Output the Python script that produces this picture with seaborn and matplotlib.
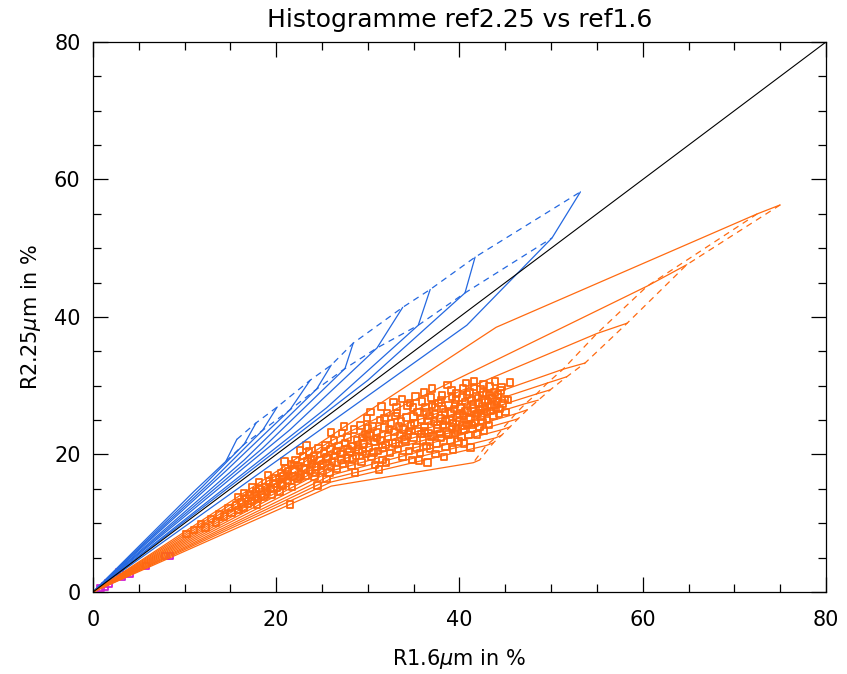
import numpy as np
import pandas as pd
import matplotlib
matplotlib.use('Agg')
import matplotlib.pyplot as plt
import seaborn as sns
from matplotlib.ticker import MultipleLocator

# blue mesh: solid columns go origin -> L1 -> L2 -> L3, dashed lines join L2 and L3 nodes
blue_l1_x = [11.0, 12.0, 13.0, 14.5, 16.5, 18.5, 21.5, 25.5, 30.0, 40.8]
blue_l1_y = [14.6, 15.4, 16.2, 17.6, 19.2, 20.9, 23.6, 26.8, 30.8, 38.8]
blue_l2_x = [14.5, 16.5, 18.5, 21.5, 24.4, 27.5, 31.0, 35.5, 40.6, 50.1]
blue_l2_y = [19.0, 21.5, 23.5, 26.5, 29.5, 32.5, 35.5, 38.8, 43.5, 51.5]
blue_l3_x = [15.7, 17.8, 20.1, 23.7, 26.0, 28.4, 33.8, 36.8, 41.7, 53.2]
blue_l3_y = [22.2, 24.6, 26.9, 30.8, 33.0, 36.2, 41.4, 44.0, 48.7, 58.2]

# orange mesh: solid columns go origin -> A -> B -> C, dashed lines join B and C nodes
orange_a_x = [44.0, 26.0, 26.0, 26.0, 26.0, 26.0, 26.0, 26.0, 26.0, 26.0, 26.0, 26.0, 26.0]
orange_a_y = [38.5, 22.0, 21.3, 20.6, 20.0, 19.4, 18.8, 18.2, 17.6, 17.0, 16.5, 16.0, 15.4]
orange_b_x = [72.5, 60.5, 55.0, 51.3, 49.6, 48.4, 47.2, 46.1, 45.4, 44.6, 43.9, 42.9, 41.5]
orange_b_y = [55.0, 44.5, 37.6, 32.4, 30.4, 28.8, 27.4, 25.9, 24.8, 23.6, 22.4, 21.3, 18.8]
orange_c_x = [75.0, 64.8, 58.3, 53.7, 51.7, 49.9, 48.6, 47.4, 46.4, 45.5, 44.6, 43.7, 42.2]
orange_c_y = [56.3, 47.6, 39.1, 33.3, 31.3, 29.4, 27.9, 26.5, 25.2, 24.0, 22.8, 21.7, 19.2]

cloud_x = [10.2, 11.0, 11.8, 12.3, 12.9, 13.4, 13.8, 14.3, 14.8, 15.1, 15.6, 15.9,
           16.2, 16.4, 16.7, 16.9, 17.1, 17.3, 17.6, 17.8, 18.0, 18.2, 18.4, 18.6, 18.8,
           19.0, 19.2, 19.4, 19.5, 19.7, 19.9, 16.5, 17.4, 18.1, 19.1, 15.8, 17.9,
           20.1, 20.3, 20.5, 20.6, 20.8, 21.0, 21.2, 21.3, 21.5, 21.6, 21.8, 22.0, 22.1,
           22.3, 22.5, 22.7, 22.9, 23.0, 23.2, 23.4, 23.6, 23.7, 23.9, 24.1, 24.2, 24.4,
           24.6, 24.7, 24.9, 20.4, 21.7, 22.6, 23.3, 24.5, 20.9,
           25.1, 25.2, 25.4, 25.6, 25.8, 25.9, 26.1, 26.3, 26.4, 26.6, 26.8, 27.0, 27.2,
           27.3, 27.5, 27.7, 27.8, 28.0, 28.2, 28.3, 28.5, 28.7, 28.8, 29.0, 29.2, 29.3,
           29.5, 29.7, 29.8, 29.9, 26.0, 27.4, 28.6, 25.5, 29.4,
           30.1, 30.2, 30.4, 30.5, 30.7, 30.8, 31.0, 31.1, 31.3, 31.4, 31.6, 31.8, 31.9,
           32.1, 32.2, 32.4, 32.5, 32.7, 32.9, 33.0, 33.2, 33.3, 33.5, 33.6, 33.8, 33.9,
           34.1, 34.2, 34.4, 34.5, 34.7, 34.8, 34.9, 30.3, 31.5, 32.8, 33.7, 31.2, 32.0, 34.6,
           35.0, 35.1, 35.3, 35.4, 35.5, 35.7, 35.8, 35.9, 36.0, 36.2, 36.3, 36.4, 36.6,
           36.7, 36.8, 36.9, 37.1, 37.2, 37.3, 37.5, 37.6, 37.7, 37.9, 38.0, 38.1, 38.2,
           38.4, 38.5, 38.6, 38.8, 38.9, 39.0, 39.1, 39.2, 39.4, 39.5, 39.6, 39.7, 39.8,
           39.9, 35.6, 36.5, 37.4, 38.3, 39.3, 35.2, 36.1, 37.0, 38.7, 39.6,
           40.0, 40.1, 40.2, 40.3, 40.4, 40.5, 40.6, 40.7, 40.8, 40.9, 41.0, 41.1, 41.2,
           41.3, 41.4, 41.5, 41.6, 41.7, 41.8, 41.9, 42.0, 42.1, 42.2, 42.3, 42.4, 42.5,
           42.6, 42.7, 42.8, 42.9, 43.0, 43.1, 43.2, 43.3, 43.4, 43.6, 43.7, 43.8, 43.9,
           44.0, 44.2, 44.3, 44.5, 44.7, 44.9, 45.3, 45.5, 40.5, 41.2, 45.0]
cloud_y = [8.4, 9.0, 9.9, 9.4, 10.6, 10.1, 11.3, 11.0, 12.2, 11.5, 12.6, 11.9,
           13.0, 12.3, 13.6, 12.8, 14.1, 13.2, 13.9, 14.6, 13.5, 15.0, 14.2, 13.8, 15.3,
           14.6, 16.1, 15.0, 14.2, 15.8, 16.6, 14.4, 15.2, 16.0, 17.0, 13.8, 12.7,
           15.2, 16.4, 17.3, 15.8, 16.9, 18.0, 16.2, 17.5, 12.7, 18.6, 16.8, 17.8, 19.2,
           16.5, 18.3, 17.1, 19.8, 18.0, 16.9, 19.0, 20.4, 17.6, 18.6, 19.7, 16.8, 18.2,
           20.9, 19.1, 17.6, 14.6, 15.3, 20.6, 21.3, 15.5, 19.0,
           18.6, 20.2, 21.4, 19.4, 17.4, 20.8, 18.9, 22.0, 19.8, 17.9, 21.2, 20.1, 23.1,
           18.6, 21.7, 19.5, 22.5, 20.4, 18.3, 21.2, 23.6, 19.8, 22.0, 20.7, 24.2, 18.9,
           21.6, 23.0, 20.1, 25.3, 23.2, 24.1, 17.4, 16.4, 22.4,
           21.0, 22.8, 19.6, 24.1, 21.8, 18.5, 23.2, 20.5, 25.0, 22.1, 19.2, 23.9, 21.4,
           26.0, 22.6, 20.2, 24.5, 21.7, 23.3, 25.6, 26.0, 20.8, 22.8, 24.8, 19.6, 23.6,
           21.8, 25.4, 22.9, 20.5, 24.2, 19.2, 26.8, 26.2, 27.0, 27.6, 28.1, 17.8, 18.8, 27.5,
           22.5, 24.6, 21.0, 26.2, 23.4, 20.2, 25.1, 27.7, 22.0, 24.0, 26.8, 21.2, 23.1,
           25.6, 20.9, 28.3, 22.7, 24.8, 26.9, 21.6, 23.8, 27.5, 25.3, 22.4, 28.6, 24.3,
           26.1, 21.1, 23.2, 27.2, 25.0, 22.0, 29.3, 24.0, 26.6, 23.1, 28.0, 28.9, 25.4,
           21.9, 19.1, 18.8, 20.1, 19.6, 20.7, 28.4, 29.0, 29.6, 30.1, 23.7,
           24.8, 26.9, 22.6, 28.3, 25.7, 23.6, 27.6, 30.4, 24.3, 26.4, 22.8, 29.1, 25.3,
           27.9, 23.8, 26.7, 29.8, 24.6, 28.4, 22.9, 26.0, 27.5, 24.0, 29.5, 25.5, 27.0,
           30.2, 23.5, 26.6, 28.8, 25.0, 27.8, 24.3, 29.9, 26.3, 28.2, 25.6, 27.2, 30.6,
           26.8, 28.7, 25.9, 29.3, 27.4, 28.1, 27.9, 30.5, 21.6, 21.0, 26.2]

# extra points in the dense core of the cloud
core_x = [36.2, 36.6, 36.9, 37.3, 37.6, 37.9, 38.2, 38.5, 38.8, 39.0, 39.3, 39.5, 39.8,
          40.0, 40.3, 40.6, 40.8, 41.0, 41.3, 41.5, 41.8, 42.0, 42.3, 42.5, 42.8, 43.0,
          43.3, 43.5, 43.8, 44.1, 44.4, 44.6, 37.0, 38.0, 39.2, 40.4, 41.6, 42.6, 35.8,
          36.4, 34.5, 35.0, 33.4, 34.0, 33.0, 32.3, 31.6, 31.0, 30.6, 29.9, 29.4, 28.9,
          28.3, 27.8, 27.1, 26.6, 26.0, 25.5, 24.9, 24.3, 23.8, 23.2, 22.6, 22.0, 21.4,
          20.7, 30.0, 31.8, 33.1, 34.3]
core_y = [23.4, 24.9, 22.6, 25.9, 24.3, 23.0, 26.6, 24.9, 22.9, 26.0, 24.6, 27.3, 23.4,
          25.9, 24.2, 26.3, 28.7, 25.1, 24.3, 27.3, 25.9, 28.2, 26.4, 24.7, 27.6, 26.2,
          28.6, 27.0, 29.0, 27.7, 26.6, 29.8, 27.2, 27.9, 28.4, 29.6, 30.6, 29.0, 23.0,
          26.2, 23.4, 25.5, 24.1, 22.2, 21.6, 23.7, 21.0, 22.4, 20.3, 22.6, 20.4, 21.4,
          19.4, 20.8, 19.3, 20.5, 18.2, 19.6, 18.4, 17.3, 19.3, 17.8, 16.7, 18.5, 16.9,
          15.5, 23.8, 25.3, 26.9, 27.1]

magenta_x = [0.8, 1.3, 1.7, 2.9, 3.1, 4.0, 5.8, 7.9, 8.4]
magenta_y = [0.6, 0.8, 1.2, 2.9, 2.2, 2.6, 3.8, 5.2, 5.2]

diag = [0, 80]

BLUE = '#2468e0'
ORANGE = '#ff6a10'
MAGENTA = '#d020d0'


def columns_frame(*levels):
    rows = []
    for i in range(len(levels[0][0])):
        rows.append((i, 0.0, 0.0))
        for lx, ly in levels:
            rows.append((i, lx[i], ly[i]))
    return pd.DataFrame(rows, columns=['col', 'x', 'y'])


def rows_frame(*levels):
    rows = []
    for k, (lx, ly) in enumerate(levels):
        for x, y in zip(lx, ly):
            rows.append((k, x, y))
    return pd.DataFrame(rows, columns=['lev', 'x', 'y'])


blue_cols = columns_frame((blue_l1_x, blue_l1_y), (blue_l2_x, blue_l2_y), (blue_l3_x, blue_l3_y))
blue_rows = rows_frame((blue_l2_x, blue_l2_y), (blue_l3_x, blue_l3_y))
orange_cols = columns_frame((orange_a_x, orange_a_y), (orange_b_x, orange_b_y), (orange_c_x, orange_c_y))
orange_rows = rows_frame((orange_b_x, orange_b_y), (orange_c_x, orange_c_y))
pts = pd.DataFrame({'x': cloud_x + core_x, 'y': cloud_y + core_y})

sns.set_style('ticks')
plt.rcParams['font.family'] = ['DejaVu Sans']
for k in ['text.color', 'axes.labelcolor', 'xtick.color', 'ytick.color', 'axes.edgecolor']:
    plt.rcParams[k] = 'black'

fig, ax = plt.subplots(figsize=(8.47, 6.74), dpi=100)
fig.subplots_adjust(left=0.1098, right=0.9752, bottom=0.1217, top=0.9377)

lw = 0.9
sns.lineplot(data=blue_cols, x='x', y='y', units='col', estimator=None, sort=False,
             color=BLUE, lw=lw, ax=ax)
sns.lineplot(data=blue_rows, x='x', y='y', units='lev', estimator=None, sort=False,
             color=BLUE, lw=lw, dashes=False, linestyle=(0, (5, 4)), ax=ax)
sns.lineplot(data=orange_cols, x='x', y='y', units='col', estimator=None, sort=False,
             color=ORANGE, lw=lw, ax=ax)
sns.lineplot(data=orange_rows, x='x', y='y', units='lev', estimator=None, sort=False,
             color=ORANGE, lw=lw, dashes=False, linestyle=(0, (5, 4)), ax=ax)
sns.lineplot(x=diag, y=diag, color='black', lw=0.8, ax=ax)

sns.scatterplot(data=pts, x='x', y='y', marker='s', s=22, facecolor='none',
                edgecolor=ORANGE, linewidth=1.3, ax=ax)
sns.scatterplot(x=magenta_x, y=magenta_y, marker='s', s=22, facecolor='none',
                edgecolor=MAGENTA, linewidth=1.3, ax=ax)

ax.set_xlim(0, 80)
ax.set_ylim(0, 80)
ax.xaxis.set_major_locator(MultipleLocator(20))
ax.yaxis.set_major_locator(MultipleLocator(20))
ax.xaxis.set_minor_locator(MultipleLocator(5))
ax.yaxis.set_minor_locator(MultipleLocator(5))
ax.tick_params(which='both', direction='in', top=True, right=True, width=0.9,
               labelsize=15)
ax.tick_params(axis='x', pad=13)
ax.tick_params(axis='y', pad=9)
ax.tick_params(which='major', length=11)
ax.tick_params(which='minor', length=6)
for sp in ax.spines.values():
    sp.set_linewidth(0.9)

ax.set_title('Histogramme ref2.25 vs ref1.6', fontsize=18, pad=11)
ax.set_xlabel(r'R1.6$\mu$m in %', fontsize=15, labelpad=12)
ax.set_ylabel(r'R2.25$\mu$m in %', fontsize=15, labelpad=8)

plt.savefig('out.png', dpi=100)
